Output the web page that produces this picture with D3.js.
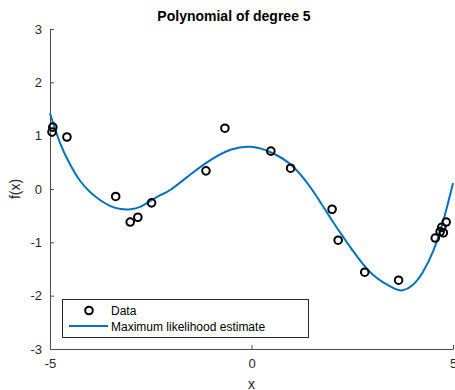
<!DOCTYPE html>
<html>
<head>
<meta charset="utf-8">
<script src="https://cdn.jsdelivr.net/npm/d3@7"></script>
<style>
  body { margin: 0; background: #fff; }
  text { font-family: "Liberation Sans", Arial, sans-serif; }
</style>
</head>
<body>
<div id="chart"></div>
<script>
// observed samples
var dataX = [-4.95, -4.93, -4.58, -3.37, -3.01, -2.82, -2.48, -1.13, -0.66, 0.48,
             0.97, 2.0, 2.15, 2.81, 3.65, 4.56, 4.68, 4.76, 4.83, 4.72];
var dataY = [1.07, 1.16, 0.975, -0.14, -0.62, -0.53, -0.26, 0.34, 1.14, 0.71,
             0.39, -0.38, -0.96, -1.56, -1.71, -0.92, -0.80, -0.82, -0.62, -0.72];

// fitted curve
var fitX = [-5, -4.75, -4.5, -4.25, -4, -3.75, -3.5, -3.25, -3, -2.75, -2.5, -2.25, -2,
            -1.5, -1, -0.5, 0, 0.5, 1, 1.5, 2, 2.5, 3, 3.5, 3.75, 4, 4.25, 4.5, 4.75, 5];
var fitY = [1.42, 0.86, 0.46, 0.15, -0.06, -0.21, -0.32, -0.375, -0.38, -0.33, -0.22, -0.11, -0.01,
            0.28, 0.55, 0.74, 0.79, 0.68, 0.44, -0.01, -0.59, -1.14, -1.6, -1.85, -1.9, -1.8, -1.56, -1.18, -0.62, 0.11];

var xTicks = [-5, 0, 5];
var yTicks = [-3, -2, -1, 0, 1, 2, 3];

var width = 455, height = 390;
var margin = {left: 50, right: 453, top: 29, bottom: 349};
var axisColor = "#4d4d4d";

var svg = d3.select("#chart").append("svg")
    .attr("width", width)
    .attr("height", height);

var x = d3.scaleLinear().domain([-5, 5]).range([margin.left, margin.right]);
var y = d3.scaleLinear().domain([-3, 3]).range([margin.bottom, margin.top]);
var fmt = function(d) { return String(d); };

// axes (box off, ticks inward)
var xAxis = svg.append("g")
    .attr("transform", "translate(0," + margin.bottom + ")")
    .call(d3.axisBottom(x).tickValues(xTicks).tickFormat(fmt)
      .tickSizeInner(-4).tickSizeOuter(0).tickPadding(10));
var yAxis = svg.append("g")
    .attr("transform", "translate(" + margin.left + ",0)")
    .call(d3.axisLeft(y).tickValues(yTicks).tickFormat(fmt)
      .tickSizeInner(-4).tickSizeOuter(0).tickPadding(8));

[xAxis, yAxis].forEach(function(g) {
  g.select(".domain").attr("stroke", axisColor);
  g.selectAll(".tick line").attr("stroke", axisColor);
  g.selectAll(".tick text")
      .attr("fill", "#262626")
      .style("font-size", "13px")
      .style("font-family", "'Liberation Sans', Arial, sans-serif");
});

// fitted line
var line = d3.line()
    .x(function(d) { return x(d[0]); })
    .y(function(d) { return y(d[1]); })
    .curve(d3.curveNatural);

svg.append("path")
    .datum(d3.zip(fitX, fitY))
    .attr("fill", "none")
    .attr("stroke", "#0072BD")
    .attr("stroke-width", 2)
    .attr("d", line);

// data markers
svg.selectAll("circle.pt")
    .data(d3.zip(dataX, dataY))
  .enter().append("circle")
    .attr("class", "pt")
    .attr("cx", function(d) { return x(d[0]); })
    .attr("cy", function(d) { return y(d[1]); })
    .attr("r", 3.8)
    .attr("fill", "none")
    .attr("stroke", "#000")
    .attr("stroke-width", 2);

// title and labels
svg.append("text")
    .attr("x", 234).attr("y", 21)
    .attr("text-anchor", "middle")
    .style("font-size", "14px").style("font-weight", "bold")
    .attr("fill", "#000")
    .text("Polynomial of degree 5");

svg.append("text")
    .attr("x", (margin.left + margin.right) / 2).attr("y", 389)
    .attr("text-anchor", "middle")
    .style("font-size", "14px")
    .attr("fill", "#262626")
    .text("x");

svg.append("text")
    .attr("transform", "translate(20," + y(0) + ") rotate(-90)")
    .attr("text-anchor", "middle")
    .style("font-size", "14px")
    .attr("fill", "#262626")
    .text("f(x)");

// legend
var lg = svg.append("g");
lg.append("rect")
    .attr("x", 62.5).attr("y", 299.5)
    .attr("width", 246).attr("height", 38)
    .attr("fill", "#fff")
    .attr("stroke", "#262626")
    .attr("stroke-width", 1);
lg.append("circle")
    .attr("cx", 89).attr("cy", 310.5).attr("r", 3.8)
    .attr("fill", "none").attr("stroke", "#000").attr("stroke-width", 2);
lg.append("text")
    .attr("x", 111).attr("y", 315)
    .style("font-size", "12px").attr("fill", "#000")
    .text("Data");
lg.append("line")
    .attr("x1", 69).attr("x2", 108).attr("y1", 326).attr("y2", 326)
    .attr("stroke", "#0072BD").attr("stroke-width", 2);
lg.append("text")
    .attr("x", 111).attr("y", 330.5)
    .style("font-size", "12px").attr("fill", "#000")
    .text("Maximum likelihood estimate");
</script>
</body>
</html>
